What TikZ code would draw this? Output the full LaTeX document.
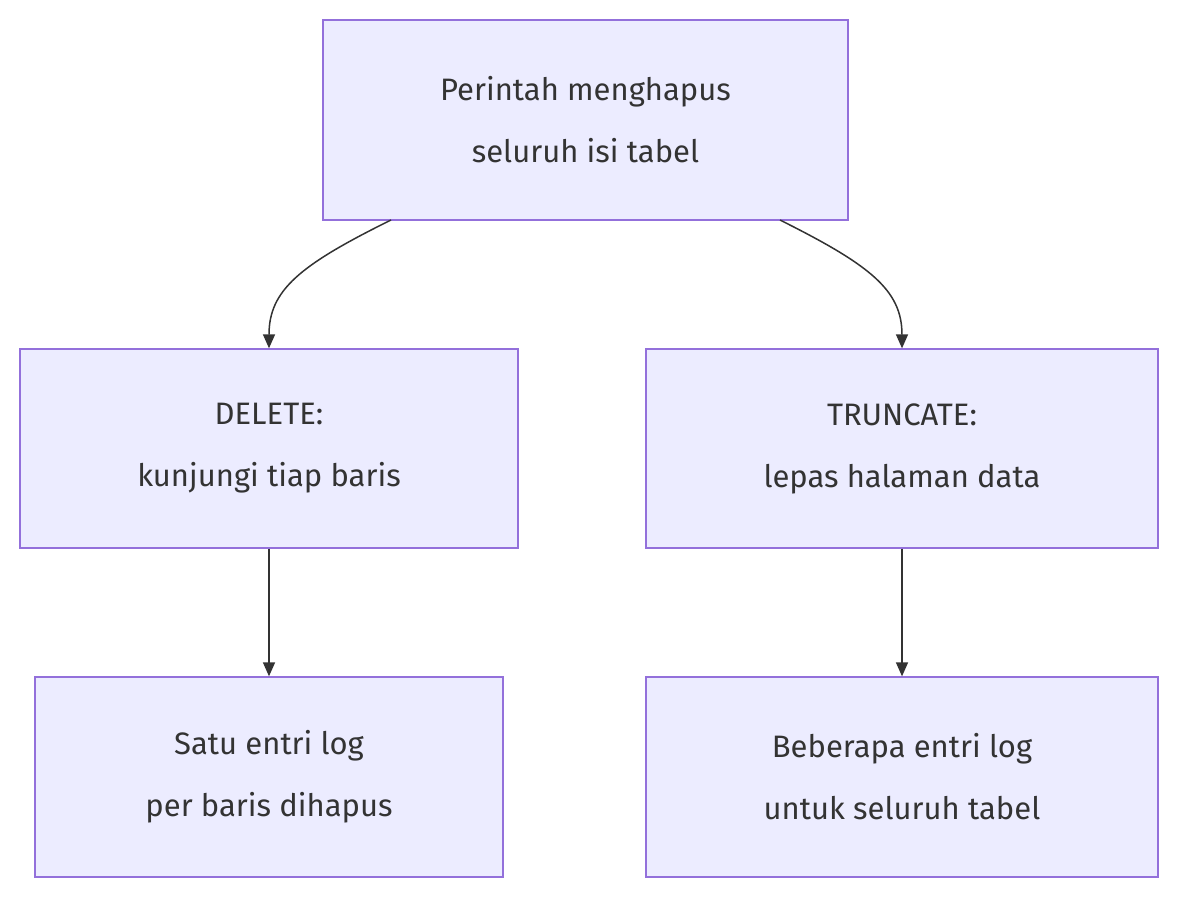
\documentclass[tikz,border=0pt]{standalone}
\usepackage{fontspec}
\setmainfont{Fira Sans}
\usetikzlibrary{arrows.meta}
\definecolor{boxfill}{HTML}{ECECFF}
\definecolor{boxline}{HTML}{9370DB}
\definecolor{ink}{HTML}{333333}
\begin{document}
\begin{tikzpicture}[x=1pt,y=-1pt,
  box/.style={draw=boxline,fill=boxfill,line width=1.3pt,inner sep=0pt,align=center,text=ink,
    font=\fontsize{31}{62}\selectfont},
  conn/.style={draw=ink,line width=1.5pt,-{Triangle[length=14pt,width=12pt]}}]
\useasboundingbox (0,0) rectangle (1200,913);
\node[box,minimum width=525pt,minimum height=200pt] (top) at (585.5,120) {Perintah menghapus\\seluruh isi tabel};
\node[box,minimum width=498pt,minimum height=199pt] (dl) at (269,448.5) {DELETE:\\kunjungi tiap baris};
\node[box,minimum width=512pt,minimum height=199pt] (tr) at (902,448.5) {TRUNCATE:\\lepas halaman data};
\node[box,minimum width=468pt,minimum height=200pt] (d2) at (269,777) {Satu entri log\\per baris dihapus};
\node[box,minimum width=512pt,minimum height=200pt] (t2) at (902,777) {Beberapa entri log\\untuk seluruh tabel};
\coordinate (a1) at (391,220);
\coordinate (a2) at (780,220);
\draw[conn] (a1) .. controls (300,265) and (269,290) .. (dl.north);
\draw[conn] (a2) .. controls (870,265) and (902,290) .. (tr.north);
\draw[conn] (dl.south) -- (d2.north);
\draw[conn] (tr.south) -- (t2.north);
\end{tikzpicture}
\end{document}
